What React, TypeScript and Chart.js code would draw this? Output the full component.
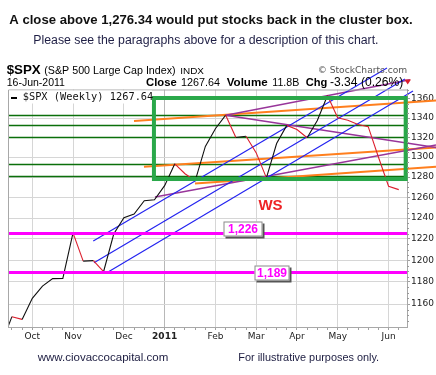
import React, { useEffect, useRef } from 'react';
import { Chart, registerables } from 'chart.js';

Chart.register(...registerables);

// Weekly bars (week starting Monday), S&P 500 weekly closes
const weekLabels = [
  '2010-09-13', '2010-09-20', '2010-09-27', '2010-10-04', '2010-10-11', '2010-10-18', '2010-10-25',
  '2010-11-01', '2010-11-08', '2010-11-15', '2010-11-22', '2010-11-29', '2010-12-06', '2010-12-13',
  '2010-12-20', '2010-12-27', '2011-01-03', '2011-01-10', '2011-01-17', '2011-01-24', '2011-01-31',
  '2011-02-07', '2011-02-14', '2011-02-21', '2011-02-28', '2011-03-07', '2011-03-14', '2011-03-21',
  '2011-03-28', '2011-04-04', '2011-04-11', '2011-04-18', '2011-04-25', '2011-05-02', '2011-05-09',
  '2011-05-16', '2011-05-23', '2011-05-30', '2011-06-06', '2011-06-13',
];
const spxClose = [
  1125.59, 1148.67, 1146.24, 1165.15, 1176.19, 1183.08, 1183.26,
  1225.85, 1199.21, 1199.73, 1189.40, 1224.71, 1240.40, 1243.91,
  1256.77, 1257.64, 1271.50, 1293.24, 1283.35, 1276.34, 1310.87,
  1329.15, 1343.01, 1319.88, 1321.15, 1304.28, 1279.20, 1313.80,
  1332.41, 1328.17, 1319.68, 1337.38, 1363.61, 1340.20, 1337.77,
  1333.27, 1331.10, 1300.16, 1270.98, 1267.64,
];
const yTickValues = [1160, 1180, 1200, 1220, 1240, 1260, 1280, 1300, 1320, 1340, 1360];
const monthTickIndex = [3, 7, 12, 16, 21, 25, 29, 33, 38];
const monthTickLabels = ['Oct', 'Nov', 'Dec', '2011', 'Feb', 'Mar', 'Apr', 'May', 'Jun'];
const yearTickIndex = 16;

// Annotations, in (week index, price) coordinates
const greenLevels = [1343.0, 1332.4, 1320.0, 1293.5, 1281.0];
const supportLevels = [1226, 1189];
const supportLabels = ['1,226', '1,189'];
const supportLabelIndex = [23.65, 26.5];
const clusterBoxIndex = [14.95, 39.68];
const clusterBoxPrice = [1278.1, 1361.0];
const blueLines = [
  [8.99, 1218.1, 37.84, 1393.1],
  [9.06, 1197.8, 39.61, 1381.2],
  [10.24, 1188.0, 40.4, 1368.4],
];
const purpleLines = [
  [22, 1343.01, 40.1, 1380.5],
  [22, 1343.01, 42.66, 1309.7],
  [15.05, 1260.4, 42.66, 1312.3],
];
const orangeLines = [
  [12.99, 1337.0, 42.66, 1358.4],
  [13.97, 1290.4, 42.66, 1309.7],
  [18.98, 1273.7, 42.66, 1290.4],
];
const wsText = 'WS';
const wsIndex = 26.4;
const wsPrice = 1251.6;

const RED = '#dc1f2e';

function fitText(
  ctx: CanvasRenderingContext2D, text: string, x: number, y: number, w: number,
  weight: string, family: string, color: string,
) {
  const base = 12;
  ctx.font = `${weight} ${base}px ${family}`;
  const m = ctx.measureText(text).width || 1;
  const size = (base * w) / m;
  ctx.font = `${weight} ${size.toFixed(2)}px ${family}`;
  ctx.fillStyle = color;
  ctx.textAlign = 'left';
  ctx.textBaseline = 'middle';
  ctx.fillText(text, x, y);
}

const SANS = '"Liberation Sans", Arial, sans-serif';
const VERD = '"DejaVu Sans", Verdana, sans-serif';
const MONO = '"DejaVu Sans Mono", monospace';

const overlay = {
  id: 'overlay',
  beforeDatasetsDraw(chart: any) {
    const ctx: CanvasRenderingContext2D = chart.ctx;
    const xs = chart.scales.x;
    const ys = chart.scales.y;
    const a = chart.chartArea;
    ctx.save();
    // green horizontal levels
    ctx.strokeStyle = '#0b6f0b';
    ctx.lineWidth = 1.5;
    greenLevels.forEach((v) => {
      const y = Math.round(ys.getPixelForValue(v)) + 0.5;
      ctx.beginPath();
      ctx.moveTo(a.left, y);
      ctx.lineTo(a.right, y);
      ctx.stroke();
    });
    const seg = (l: number[], color: string, w: number) => {
      ctx.strokeStyle = color;
      ctx.lineWidth = w;
      ctx.beginPath();
      ctx.moveTo(xs.getPixelForValue(l[0]), ys.getPixelForValue(l[1]));
      ctx.lineTo(xs.getPixelForValue(l[2]), ys.getPixelForValue(l[3]));
      ctx.stroke();
    };
    orangeLines.forEach((l) => seg(l, '#ff7f1e', 2));
    purpleLines.forEach((l) => seg(l, '#98359a', 1.5));
    blueLines.forEach((l) => seg(l, '#2424f0', 1.2));
    ctx.restore();
  },
  afterDatasetsDraw(chart: any) {
    const ctx: CanvasRenderingContext2D = chart.ctx;
    const xs = chart.scales.x;
    const ys = chart.scales.y;
    const a = chart.chartArea;
    ctx.save();
    // magenta support lines
    ctx.strokeStyle = '#ff00ff';
    ctx.lineWidth = 3;
    supportLevels.forEach((v) => {
      const y = Math.round(ys.getPixelForValue(v)) + 0.5;
      ctx.beginPath();
      ctx.moveTo(a.left, y);
      ctx.lineTo(a.right, y);
      ctx.stroke();
    });
    // labels
    const offs = [-3.5, 1];
    const widths = [39, 35];
    supportLevels.forEach((v, k) => {
      const cy = Math.round(ys.getPixelForValue(v) + offs[k]);
      const cx = Math.round(xs.getPixelForValue(supportLabelIndex[k]));
      const w = widths[k];
      const h = 15;
      ctx.fillStyle = '#555';
      ctx.fillRect(cx - w / 2 + 2, cy - h / 2 + 2, w, h);
      ctx.fillStyle = '#fff';
      ctx.fillRect(cx - w / 2, cy - h / 2, w, h);
      ctx.strokeStyle = '#8a8a8a';
      ctx.lineWidth = 1;
      ctx.strokeRect(cx - w / 2 + 0.5, cy - h / 2 + 0.5, w - 1, h - 1);
      ctx.fillStyle = '#ff00ff';
      ctx.font = `bold 12px ${SANS}`;
      ctx.textAlign = 'center';
      ctx.textBaseline = 'middle';
      ctx.fillText(supportLabels[k], cx, cy + 0.5);
    });
    // WS
    ctx.fillStyle = '#ee2426';
    ctx.font = `bold 15px ${SANS}`;
    ctx.textAlign = 'center';
    ctx.textBaseline = 'middle';
    ctx.fillText(wsText, xs.getPixelForValue(wsIndex), ys.getPixelForValue(wsPrice));
    // cluster box
    ctx.strokeStyle = '#2aa84a';
    ctx.lineWidth = 4;
    const bx0 = xs.getPixelForValue(clusterBoxIndex[0]);
    const bx1 = xs.getPixelForValue(clusterBoxIndex[1]);
    const by0 = ys.getPixelForValue(clusterBoxPrice[1]);
    const by1 = ys.getPixelForValue(clusterBoxPrice[0]);
    ctx.strokeRect(bx0, by0, bx1 - bx0, by1 - by0);
    // plot border (top, left)
    ctx.strokeStyle = '#a8a8a8';
    ctx.lineWidth = 1;
    ctx.beginPath();
    ctx.moveTo(a.left + 0.5, a.bottom);
    ctx.lineTo(a.left + 0.5, a.top + 0.5);
    ctx.lineTo(a.right, a.top + 0.5);
    ctx.stroke();
    // legend
    ctx.fillStyle = '#fff';
    ctx.fillRect(a.left + 1, a.top + 1, bx0 - a.left - 3, 13);
    ctx.strokeStyle = '#000';
    ctx.lineWidth = 2;
    ctx.beginPath();
    ctx.moveTo(a.left + 3, 98);
    ctx.lineTo(a.left + 9, 98);
    ctx.stroke();
    fitText(ctx, '$SPX (Weekly) 1267.64', 22.7, 97.5, 130.6, 'normal', MONO, '#111');
    // y minor ticks
    ctx.strokeStyle = '#999';
    ctx.lineWidth = 1;
    for (let v = 1140; v <= 1370; v += 5) {
      if (v % 20 === 0) continue;
      const y = Math.round(ys.getPixelForValue(v)) + 0.5;
      if (y < a.top || y > a.bottom) continue;
      ctx.beginPath();
      ctx.moveTo(a.right, y);
      ctx.lineTo(a.right + 2, y);
      ctx.stroke();
    }
    ctx.restore();
  },
  afterDraw(chart: any) {
    const ctx: CanvasRenderingContext2D = chart.ctx;
    ctx.save();
    fitText(ctx, 'A close above 1,276.34 would put stocks back in the cluster box.', 9.3, 20, 403.4, 'bold', SANS, '#111');
    fitText(ctx, 'Please see the paragraphs above for a description of this chart.', 33.3, 41, 345.7, 'normal', SANS, '#1f1f45');
    fitText(ctx, '$SPX', 6.7, 70.5, 34, 'bold', SANS, '#000');
    fitText(ctx, '(S&P 500 Large Cap Index)', 44.3, 71, 131.4, 'normal', SANS, '#000');
    fitText(ctx, 'INDX', 180.3, 71, 23.7, 'normal', SANS, '#000');
    fitText(ctx, '\u00A9 StockCharts.com', 317.7, 71, 89.6, 'normal', VERD, '#555');
    fitText(ctx, '16-Jun-2011', 6.7, 83, 58.3, 'normal', SANS, '#000');
    fitText(ctx, 'Close', 146, 83, 30.7, 'bold', SANS, '#000');
    fitText(ctx, '1267.64', 181, 83, 39, 'normal', SANS, '#000');
    fitText(ctx, 'Volume', 226.7, 83, 41, 'bold', SANS, '#000');
    fitText(ctx, '11.8B', 272.3, 83, 27, 'normal', SANS, '#000');
    fitText(ctx, 'Chg', 305.7, 83, 21.6, 'bold', SANS, '#000');
    fitText(ctx, '-3.34 (0.26%)', 330, 83, 73.3, 'normal', SANS, '#000');
    ctx.fillStyle = RED;
    ctx.beginPath();
    ctx.moveTo(404.5, 79.5);
    ctx.lineTo(411, 79.5);
    ctx.lineTo(407.7, 84.5);
    ctx.closePath();
    ctx.fill();
    fitText(ctx, 'www.ciovaccocapital.com', 37.7, 357.5, 130.6, 'normal', SANS, '#1c1c40');
    fitText(ctx, 'For illustrative purposes only.', 238.3, 358, 141, 'normal', SANS, '#1c1c40');
    ctx.restore();
  },
};

export default function App() {
  const ref = useRef<HTMLCanvasElement>(null);
  useEffect(() => {
    const canvas = ref.current as HTMLCanvasElement;
    const points = spxClose.map((v, i) => ({ x: i, y: v }));
    const weekIdx = weekLabels.map((_, i) => i).filter((i) => i >= 1);
    const chart = new Chart(canvas, {
      type: 'line',
      data: {
        datasets: [
          {
            label: '$SPX (Weekly)',
            data: points,
            borderColor: '#111',
            borderWidth: 1.1,
            pointRadius: 0,
            tension: 0,
            segment: {
              borderColor: (c: any) => (c.p1.parsed.y < c.p0.parsed.y ? RED : '#111'),
            },
          } as any,
        ],
      },
      options: {
        animation: false,
        responsive: false,
        maintainAspectRatio: false,
        layout: { padding: { left: 8, top: 89.5, right: 0, bottom: 0 } },
        plugins: {
          legend: { display: false },
          tooltip: { enabled: false },
          title: { display: false },
        },
        scales: {
          x: {
            type: 'linear',
            min: 0.613,
            max: 39.81,
            afterBuildTicks: (s: any) => {
              s.ticks = weekIdx.map((v) => ({ value: v }));
            },
            afterFit: (s: any) => {
              s.height = 48;
            },
            grid: {
              color: (c: any) => {
                const v = c.tick ? c.tick.value : -1;
                if (!monthTickIndex.includes(v)) return 'rgba(0,0,0,0)';
                return v === yearTickIndex ? '#b8b8b8' : '#d6d6d6';
              },
              tickColor: '#a0a0a0',
              tickLength: 3,
              lineWidth: 1,
            },
            border: { color: '#a8a8a8' },
            ticks: {
              autoSkip: false,
              maxRotation: 0,
              padding: 1,
              color: '#222',
              font: (c: any) => ({
                family: 'DejaVu Sans',
                size: 9,
                weight: c.tick && c.tick.value === yearTickIndex ? 'bold' : 'normal',
              }),
              callback: (v: any) => {
                const k = monthTickIndex.indexOf(Number(v));
                return k >= 0 ? monthTickLabels[k] : '';
              },
            },
          },
          y: {
            type: 'logarithmic',
            position: 'right',
            min: 1139.5,
            max: 1370,
            afterBuildTicks: (s: any) => {
              s.ticks = yTickValues.map((v) => ({ value: v }));
            },
            afterFit: (s: any) => {
              s.width = 29;
            },
            grid: { color: '#d6d6d6', tickColor: '#a0a0a0', tickLength: 3 },
            border: { color: '#a8a8a8' },
            ticks: {
              padding: 1,
              color: '#222',
              font: { family: 'DejaVu Sans', size: 9 },
              callback: (v: any) => String(v),
            },
          },
        },
      } as any,
      plugins: [overlay],
    });
    return () => chart.destroy();
  }, []);
  return (
    <div style={{ position: 'absolute', left: 0, top: 0, width: 436, height: 375, background: '#fff' }}>
      <canvas ref={ref} width={436} height={375} style={{ display: 'block', width: 436, height: 375 }} />
    </div>
  );
}
